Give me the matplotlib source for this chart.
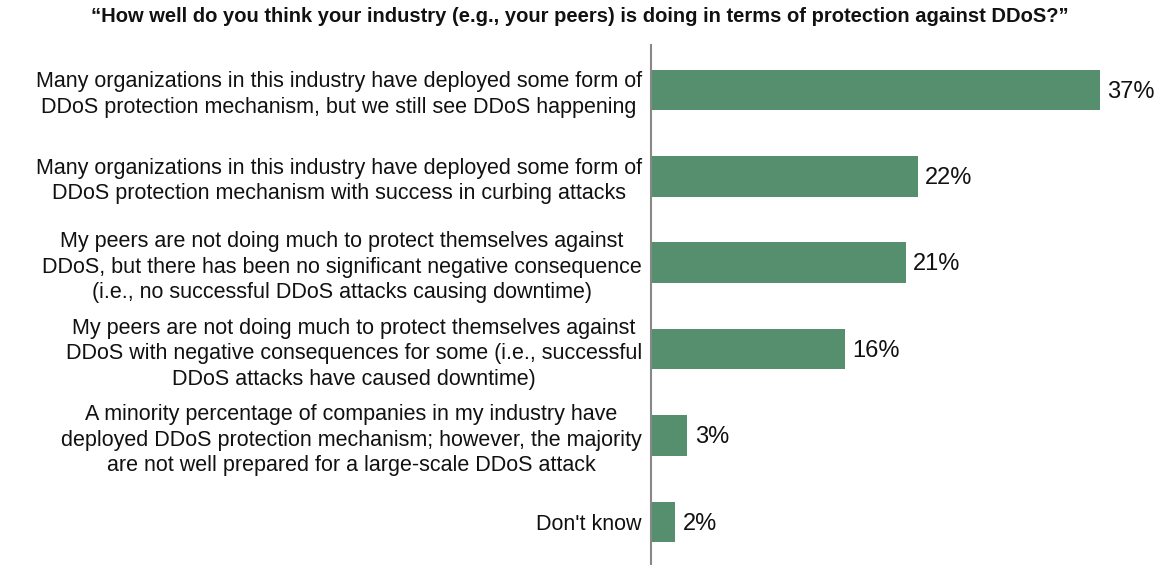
import matplotlib
matplotlib.use("Agg")
import matplotlib.pyplot as plt

plt.rcParams['font.family'] = ['Liberation Sans', 'DejaVu Sans']

title = "\u201cHow well do you think your industry (e.g., your peers) is doing in terms of protection against DDoS?\u201d"

categories = [
    "Many organizations in this industry have deployed some form of\nDDoS protection mechanism, but we still see DDoS happening",
    "Many organizations in this industry have deployed some form of\nDDoS protection mechanism with success in curbing attacks",
    "My peers are not doing much to protect themselves against\nDDoS, but there has been no significant negative consequence\n(i.e., no successful DDoS attacks causing downtime)",
    "My peers are not doing much to protect themselves against\nDDoS with negative consequences for some (i.e., successful\nDDoS attacks have caused downtime)",
    "A minority percentage of companies in my industry have\ndeployed DDoS protection mechanism; however, the majority\nare not well prepared for a large-scale DDoS attack",
    "Don't know",
]
values = [37, 22, 21, 16, 3, 2]

fig = plt.figure(figsize=(11.61, 5.65), dpi=100)
ax = fig.add_axes([651 / 1161, 0.0, (1100 - 651) / 1161, 1 - 45 / 565])

ypos = list(range(len(values)))
ax.barh(ypos, values, height=0.47, color="#558f6e")
ax.set_xlim(0, 37)
ax.set_ylim(5.5, -0.52)

for y, v in zip(ypos, values):
    ax.text(v + 0.6, y + 0.02, f"{v}%", va="center", ha="left", fontsize=17, color="#111111", clip_on=False)

ax.set_yticks(ypos)
ax.set_yticklabels(categories, fontsize=15.5, color="#111111", linespacing=1.28,
                   multialignment="center")
ax.tick_params(axis="y", length=0, pad=6.5)
ax.set_xticks([])
for s in ("top", "right", "bottom"):
    ax.spines[s].set_visible(False)
ax.spines["left"].set_color("#888888")
ax.spines["left"].set_linewidth(1.5)

fig.text(580 / 1161, 1 - 17 / 565, title, ha="center", va="center", fontsize=14.5, fontweight="bold", color="#111111")

fig.savefig("out.png", dpi=100)
